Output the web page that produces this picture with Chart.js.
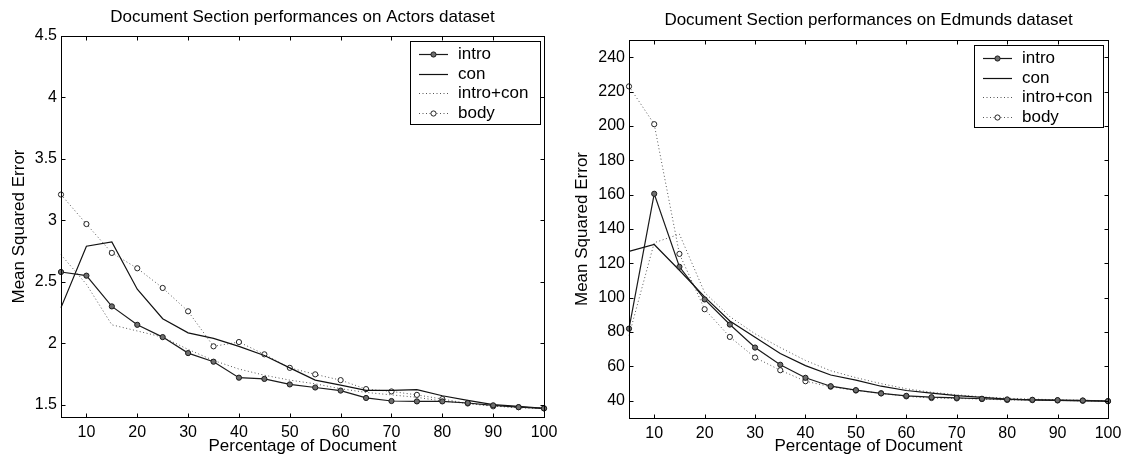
<!DOCTYPE html>
<html>
<head>
<meta charset="utf-8">
<script src="https://cdn.jsdelivr.net/npm/chart.js@4.4.1/dist/chart.umd.min.js"></script>
<style>
  html, body { margin:0; padding:0; background:#fff; }
  #wrap { position:relative; width:1130px; height:460px; }
  canvas { position:absolute; top:0; }
</style>
</head>
<body>
<div id="wrap">
  <canvas id="actors" width="565" height="460" style="left:0"></canvas>
  <canvas id="edmunds" width="565" height="460" style="left:565px"></canvas>
</div>
<script>
// ── DATA ─────────────────────────────────────────────────
const PCT = [5,10,15,20,25,30,35,40,45,50,55,60,65,70,75,80,85,90,95,100];
const X_TICKS = [10,20,30,40,50,60,70,80,90,100];

const ACT_TICKS = [1.5,2,2.5,3,3.5,4,4.5];
const ACT_INTRO = [2.58,2.55,2.30,2.15,2.05,1.92,1.85,1.72,1.71,1.665,1.64,1.615,1.555,1.53,1.527,1.527,1.514,1.495,1.48,1.47];
const ACT_CON   = [2.29,2.79,2.825,2.44,2.20,2.085,2.04,1.975,1.90,1.80,1.70,1.66,1.617,1.617,1.622,1.573,1.535,1.50,1.487,1.47];
const ACT_BOTH  = [2.72,2.48,2.15,2.10,2.05,1.95,1.86,1.79,1.74,1.70,1.67,1.63,1.60,1.58,1.56,1.53,1.51,1.49,1.475,1.47];
const ACT_BODY  = [3.21,2.97,2.735,2.61,2.45,2.26,1.975,2.01,1.91,1.80,1.747,1.70,1.627,1.608,1.58,1.546,1.51,1.487,1.48,1.47];

const EDM_TICKS = [40,60,80,100,120,140,160,180,200,220,240];
const EDM_INTRO = [82,160.5,118,99,84.4,71,61,53.4,48.5,46.2,44.3,42.9,42.1,41.7,41.2,40.8,40.6,40.4,40.2,39.8];
const EDM_CON   = [127,131,116,100.5,86.5,77,67.5,60.5,55,52,48.5,46,44.5,43,42,41,40.6,40.3,40,39.8];
const EDM_BOTH  = [78,132,137,103,89,79,71,63.5,57.5,53.5,50,47,45,43.5,42.3,41.5,41,40.6,40.3,40];
const EDM_BODY  = [223,201,125.5,93.3,77.2,65.2,57.8,51.4,48.2,46,44.4,42.6,41.6,41.4,41,40.5,40.4,40.2,40,39.8];

// ── STYLE ────────────────────────────────────────────────
const FAMILY = "'Liberation Sans', Arial, Helvetica, sans-serif";
const TICK_FONT  = { family:FAMILY, size:16 };
const LABEL_FONT = { family:FAMILY, size:17 };
const LABEL_CSS  = "17px " + FAMILY;
const TICK = 4;

Chart.defaults.font.family = FAMILY;
Chart.defaults.font.size = 16;
Chart.defaults.color = '#000';

const SERIES = [
  { label:'intro',     borderColor:'#1a1a1a', borderWidth:1.2, pointRadius:2.6, pointBackgroundColor:'#6e6e6e', pointBorderColor:'#1a1a1a' },
  { label:'con',       borderColor:'#111',    borderWidth:1.2, pointRadius:0 },
  { label:'intro+con', borderColor:'#555',    borderWidth:1,   borderDash:[1,2.5], pointRadius:0 },
  { label:'body',      borderColor:'#555',    borderWidth:1,   borderDash:[1,2.5], pointRadius:2.6, pointBackgroundColor:'#fff', pointBorderColor:'#222' },
];

// ── PLUGINS ──────────────────────────────────────────────
// boxed axes with inward tick marks on all four sides
const frameTicks = {
  id:'frameTicks',
  afterDraw(chart) {
    const { ctx, chartArea:a, scales:{ x, y } } = chart;
    const L = Math.round(a.left)+0.5, R = Math.round(a.right)+0.5;
    const T = Math.round(a.top)+0.5,  B = Math.round(a.bottom)+0.5;
    ctx.save();
    ctx.strokeStyle = '#000'; ctx.lineWidth = 1;
    ctx.strokeRect(L, T, R-L, B-T);
    ctx.beginPath();
    x.ticks.forEach(t => {
      const px = Math.round(x.getPixelForValue(t.value))+0.5;
      ctx.moveTo(px, B); ctx.lineTo(px, B-TICK);
      ctx.moveTo(px, T); ctx.lineTo(px, T+TICK);
    });
    y.ticks.forEach(t => {
      const py = Math.round(y.getPixelForValue(t.value))+0.5;
      ctx.moveTo(L, py); ctx.lineTo(L+TICK, py);
      ctx.moveTo(R, py); ctx.lineTo(R-TICK, py);
    });
    ctx.stroke();
    ctx.restore();
  }
};

// title centred over the plot box
const plotTitle = {
  id:'plotTitle',
  afterDraw(chart, args, opts) {
    const { ctx, chartArea:a } = chart;
    ctx.save();
    ctx.font = LABEL_CSS; ctx.fillStyle = '#000';
    ctx.textAlign = 'center'; ctx.textBaseline = 'middle';
    ctx.fillText(opts.text, (a.left+a.right)/2, a.top - opts.gap);
    ctx.restore();
  }
};

// framed legend in the upper right corner of the plot
const boxLegend = {
  id:'boxLegend',
  afterDraw(chart, args, opts) {
    const { ctx, chartArea:a } = chart;
    const w = opts.width, h = opts.height;
    const left = Math.round(a.right - opts.right - w), top = Math.round(a.top + opts.top);
    ctx.save();
    ctx.fillStyle = '#fff'; ctx.fillRect(left, top, w, h);
    ctx.strokeStyle = '#000'; ctx.lineWidth = 1;
    ctx.strokeRect(left+0.5, top+0.5, w, h);
    ctx.font = LABEL_CSS; ctx.textAlign = 'left'; ctx.textBaseline = 'middle';
    chart.data.datasets.forEach((ds, i) => {
      const cy = Math.round(top + 13 + i*19.6) + 0.5;
      ctx.strokeStyle = ds.borderColor; ctx.lineWidth = ds.borderWidth;
      ctx.setLineDash(ds.borderDash || []);
      ctx.beginPath(); ctx.moveTo(left+9, cy); ctx.lineTo(left+38, cy); ctx.stroke();
      ctx.setLineDash([]);
      if (ds.pointRadius) {
        ctx.beginPath(); ctx.arc(left+23.5, cy, ds.pointRadius, 0, Math.PI*2);
        ctx.fillStyle = ds.pointBackgroundColor; ctx.fill();
        ctx.strokeStyle = ds.pointBorderColor; ctx.lineWidth = 1; ctx.stroke();
      }
      ctx.fillStyle = '#000';
      ctx.fillText(ds.label, left+48, cy);
    });
    ctx.restore();
  }
};

// ── CHARTS ───────────────────────────────────────────────
function makeSets(rows) {
  return SERIES.map((s, i) => ({
    ...s,
    data: rows[i].map((v, j) => ({ x:PCT[j], y:v })),
    tension:0, fill:false, clip:false,
    pointBorderWidth:1, pointHoverRadius:0,
  }));
}

function renderChart(id, cfg) {
  return new Chart(document.getElementById(id), {
    type:'line',
    data:{ datasets: makeSets(cfg.rows) },
    plugins:[frameTicks, plotTitle, boxLegend],
    options:{
      responsive:false, animation:false, events:[],
      layout:{ padding:cfg.pad },
      plugins:{
        legend:{ display:false }, tooltip:{ enabled:false },
        plotTitle:{ text:cfg.title, gap:cfg.titleGap },
        boxLegend:{ width:cfg.legendW, height:cfg.legendH, right:cfg.legendR, top:5 },
      },
      scales:{
        x:{
          type:'linear', min:5, max:100,
          afterBuildTicks: s => { s.ticks = X_TICKS.map(v => ({ value:v })); },
          afterFit: s => { s.height = cfg.xHeight; },
          grid:{ display:false, drawTicks:false }, border:{ display:false },
          ticks:{ color:'#000', font:TICK_FONT, padding:6, maxRotation:0, autoSkip:false },
          title:{ display:true, text:'Percentage of Document', color:'#000', font:LABEL_FONT, padding:{ top:0, bottom:3 } },
        },
        y:{
          type:'linear', min:cfg.yMin, max:cfg.yMax,
          afterBuildTicks: s => { s.ticks = cfg.yTicks.map(v => ({ value:v })); },
          afterFit: s => { s.width = cfg.yWidth; },
          grid:{ display:false, drawTicks:false }, border:{ display:false },
          ticks:{ color:'#000', font:TICK_FONT, padding:4, callback: v => String(v) },
          title:{ display:true, text:'Mean Squared Error', color:'#000', font:LABEL_FONT, padding:{ top:3, bottom:0 } },
        },
      },
    },
  });
}

renderChart('actors', {
  title:'Document Section performances on Actors dataset', titleGap:19,
  rows:[ACT_INTRO, ACT_CON, ACT_BOTH, ACT_BODY],
  yMin:1.4, yMax:4.5, yTicks:ACT_TICKS,
  pad:{ left:6, right:21, top:36, bottom:0 }, yWidth:55, xHeight:43,
  legendW:130, legendH:83, legendR:4,
});

renderChart('edmunds', {
  title:'Document Section performances on Edmunds dataset', titleGap:20,
  rows:[EDM_INTRO, EDM_CON, EDM_BOTH, EDM_BODY],
  yMin:30, yMax:250, yTicks:EDM_TICKS,
  pad:{ left:4, right:22, top:40, bottom:0 }, yWidth:60, xHeight:42,
  legendW:129, legendH:82, legendR:5,
});
</script>
</body>
</html>
